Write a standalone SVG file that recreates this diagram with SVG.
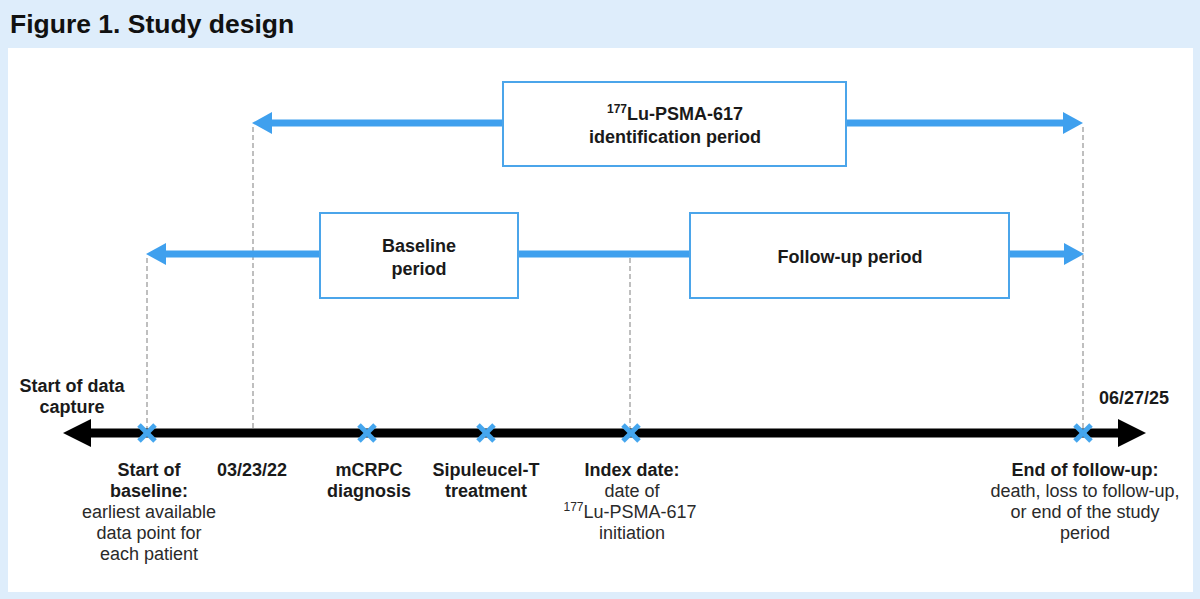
<svg xmlns="http://www.w3.org/2000/svg" width="1200" height="599" viewBox="0 0 1200 599">
<style>
.t{font-family:"Liberation Sans",Arial,sans-serif;font-size:18px;fill:#1a1a1a;text-anchor:middle}
.b{font-weight:bold}
.n{fill:#2a2a2a}
.box{fill:#fff;stroke:#4ba5ea;stroke-width:2}
.blue{stroke:#3fa0ee;stroke-width:7;fill:none}
.dash{stroke:#aaa;stroke-width:1.5;stroke-dasharray:5 3;fill:none}
.x{stroke:#45a6ee;stroke-width:5;stroke-linecap:butt}
</style>
<rect width="1200" height="599" fill="#deedfb"/>
<rect x="8" y="48" width="1185" height="544" fill="#fff"/>
<text x="10" y="33" style="font-family:'Liberation Sans',Arial,sans-serif;font-size:26.5px;font-weight:bold;fill:#111">Figure 1. Study design</text>

<g id="connectors">
<line class="dash" x1="147" y1="258" x2="147" y2="430"/>
<line class="dash" x1="253" y1="127" x2="253" y2="430"/>
<line class="dash" x1="630" y1="258" x2="630" y2="430"/>
<line class="dash" x1="1083" y1="127" x2="1083" y2="430"/>
<line class="blue" x1="270" y1="123" x2="1065" y2="123"/>
<polygon points="252,123 272,112 272,134" fill="#3fa0ee"/>
<polygon points="1083,123 1063,112 1063,134" fill="#3fa0ee"/>
<line class="blue" x1="165" y1="254" x2="1065" y2="254"/>
<polygon points="146,254 166,243 166,265" fill="#3fa0ee"/>
<polygon points="1084,254 1064,243 1064,265" fill="#3fa0ee"/>
<line x1="88" y1="433" x2="1120" y2="433" stroke="#000" stroke-width="9"/>
<polygon points="63,433 91,419 91,447" fill="#000"/>
<polygon points="1146,433 1118,419 1118,447" fill="#000"/>
</g>

<g id="box-identification">
<rect class="box" x="503" y="82" width="343" height="84"/>
<text class="t b" x="675" y="120"><tspan font-size="12" dy="-7">177</tspan><tspan dy="7">Lu-PSMA-617</tspan></text>
<text class="t b" x="675" y="143">identification period</text>
</g>
<g id="box-baseline">
<rect class="box" x="320" y="213" width="198" height="85"/>
<text class="t b" x="419" y="252">Baseline</text>
<text class="t b" x="419" y="275">period</text>
</g>
<g id="box-followup">
<rect class="box" x="690" y="213" width="319" height="85"/>
<text class="t b" x="850" y="263">Follow-up period</text>
</g>

<g id="marks">
<g class="x">
<line x1="139" y1="425" x2="155" y2="441"/><line x1="155" y1="425" x2="139" y2="441"/>
<line x1="359" y1="425" x2="375" y2="441"/><line x1="375" y1="425" x2="359" y2="441"/>
<line x1="478" y1="425" x2="494" y2="441"/><line x1="494" y1="425" x2="478" y2="441"/>
<line x1="623" y1="425" x2="639" y2="441"/><line x1="639" y1="425" x2="623" y2="441"/>
<line x1="1075" y1="425" x2="1091" y2="441"/><line x1="1091" y1="425" x2="1075" y2="441"/>
</g>
</g>

<g id="label-start-data">
<text class="t b" x="72" y="392">Start of data</text>
<text class="t b" x="72" y="413">capture</text>
</g>
<g id="label-end-date">
<text class="t b" x="1134" y="404">06/27/25</text>
</g>
<g id="label-start-baseline">
<text class="t b" x="149" y="476">Start of</text>
<text class="t b" x="149" y="497">baseline:</text>
<text class="t n" x="149" y="518">earliest available</text>
<text class="t n" x="149" y="539">data point for</text>
<text class="t n" x="149" y="560">each patient</text>
</g>
<g id="label-date1">
<text class="t b" x="252" y="476">03/23/22</text>
</g>
<g id="label-mcrpc">
<text class="t b" x="369" y="476">mCRPC</text>
<text class="t b" x="369" y="497">diagnosis</text>
</g>
<g id="label-sipuleucel">
<text class="t b" x="486" y="476">Sipuleucel-T</text>
<text class="t b" x="486" y="497">treatment</text>
</g>
<g id="label-index">
<text class="t b" x="632" y="476">Index date:</text>
<text class="t n" x="632" y="497">date of</text>
<text class="t n" x="630" y="518"><tspan font-size="12" dy="-7">177</tspan><tspan dy="7">Lu-PSMA-617</tspan></text>
<text class="t n" x="632" y="539">initiation</text>
</g>
<g id="label-end">
<text class="t b" x="1085" y="476">End of follow-up:</text>
<text class="t n" x="1085" y="497">death, loss to follow-up,</text>
<text class="t n" x="1085" y="518">or end of the study</text>
<text class="t n" x="1085" y="539">period</text>
</g>
</svg>
